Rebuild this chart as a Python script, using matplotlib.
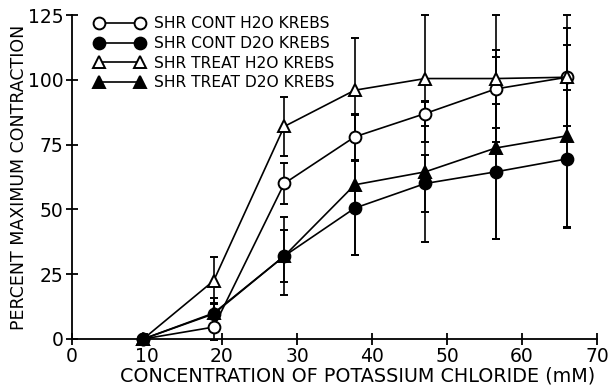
import matplotlib
matplotlib.use("Agg")
import matplotlib.pyplot as plt
from matplotlib.lines import Line2D

plt.rcParams['font.family'] = ['DejaVu Sans']

kcl = [9.5, 18.9, 28.3, 37.7, 47.1, 56.5, 66.0]

labels = ["SHR CONT H2O KREBS", "SHR CONT D2O KREBS",
          "SHR TREAT H2O KREBS", "SHR TREAT D2O KREBS"]

cont_h2o = [0, 4.6, 60, 78, 87, 96.5, 101]
cont_h2o_err = [0, 5, 8, 9, 5, 15, 19]

cont_d2o = [0, 9.7, 32, 50.5, 60, 64.5, 69.5]
cont_d2o_err = [0, 4, 10, 18, 11, 26, 26.5]

treat_h2o = [0, 22.5, 82, 96, 100.5, 100.5, 101]
treat_h2o_err = [0, 9, 11.5, 20, 24.5, 24.5, 24]

treat_d2o = [0, 10, 32, 59.5, 64.5, 73.7, 78.4]
treat_d2o_err = [0, 6, 15, 27, 27, 35, 35]

xticks = [0, 10, 20, 30, 40, 50, 60, 70]
yticks = [0, 25, 50, 75, 100, 125]

fig = plt.figure(figsize=(6.12, 3.86), dpi=100)
ax = fig.add_axes([0.1176, 0.1218, 0.8579, 0.8392])

series = [
    (cont_h2o, cont_h2o_err, 'o', 'white'),
    (cont_d2o, cont_d2o_err, 'o', 'black'),
    (treat_h2o, treat_h2o_err, '^', 'white'),
    (treat_d2o, treat_d2o_err, '^', 'black'),
]
handles = []
for (y, e, m, fc), lab in zip(series, labels):
    ax.errorbar(kcl, y, yerr=e, color='black', marker=m, markerfacecolor=fc,
                markeredgecolor='black', markersize=8.5, markeredgewidth=1.4,
                linewidth=1.2, elinewidth=1.2, capsize=3, capthick=1.2,
                clip_on=False, zorder=3)
    handles.append(Line2D([], [], color='black', marker=m, markerfacecolor=fc,
                          markeredgecolor='black', markersize=8.5,
                          markeredgewidth=1.4, linewidth=1.2, label=lab))

ax.set_xlim(0, 70)
ax.set_ylim(0, 125)
ax.set_xticks(xticks)
ax.set_yticks(yticks)
for s in ['top', 'right']:
    ax.spines[s].set_visible(False)
for s in ['left', 'bottom']:
    ax.spines[s].set_linewidth(1.3)
ax.tick_params(direction='inout', length=8, width=1.3, labelsize=13.5, pad=2)
ax.set_xlabel("CONCENTRATION OF POTASSIUM CHLORIDE (mM)", fontsize=13.8)
ax.xaxis.set_label_coords(0.545, -0.085)
ax.set_ylabel("PERCENT MAXIMUM CONTRACTION", fontsize=12.5)
ax.yaxis.set_label_coords(-0.083, 0.5)

ax.legend(handles=handles, loc='upper left', bbox_to_anchor=(0.0316, 1.015),
          numpoints=2, frameon=False, fontsize=11.2, handlelength=3.2,
          handletextpad=0.6, labelspacing=0.3, borderaxespad=0)

fig.savefig("out.png", dpi=100)
